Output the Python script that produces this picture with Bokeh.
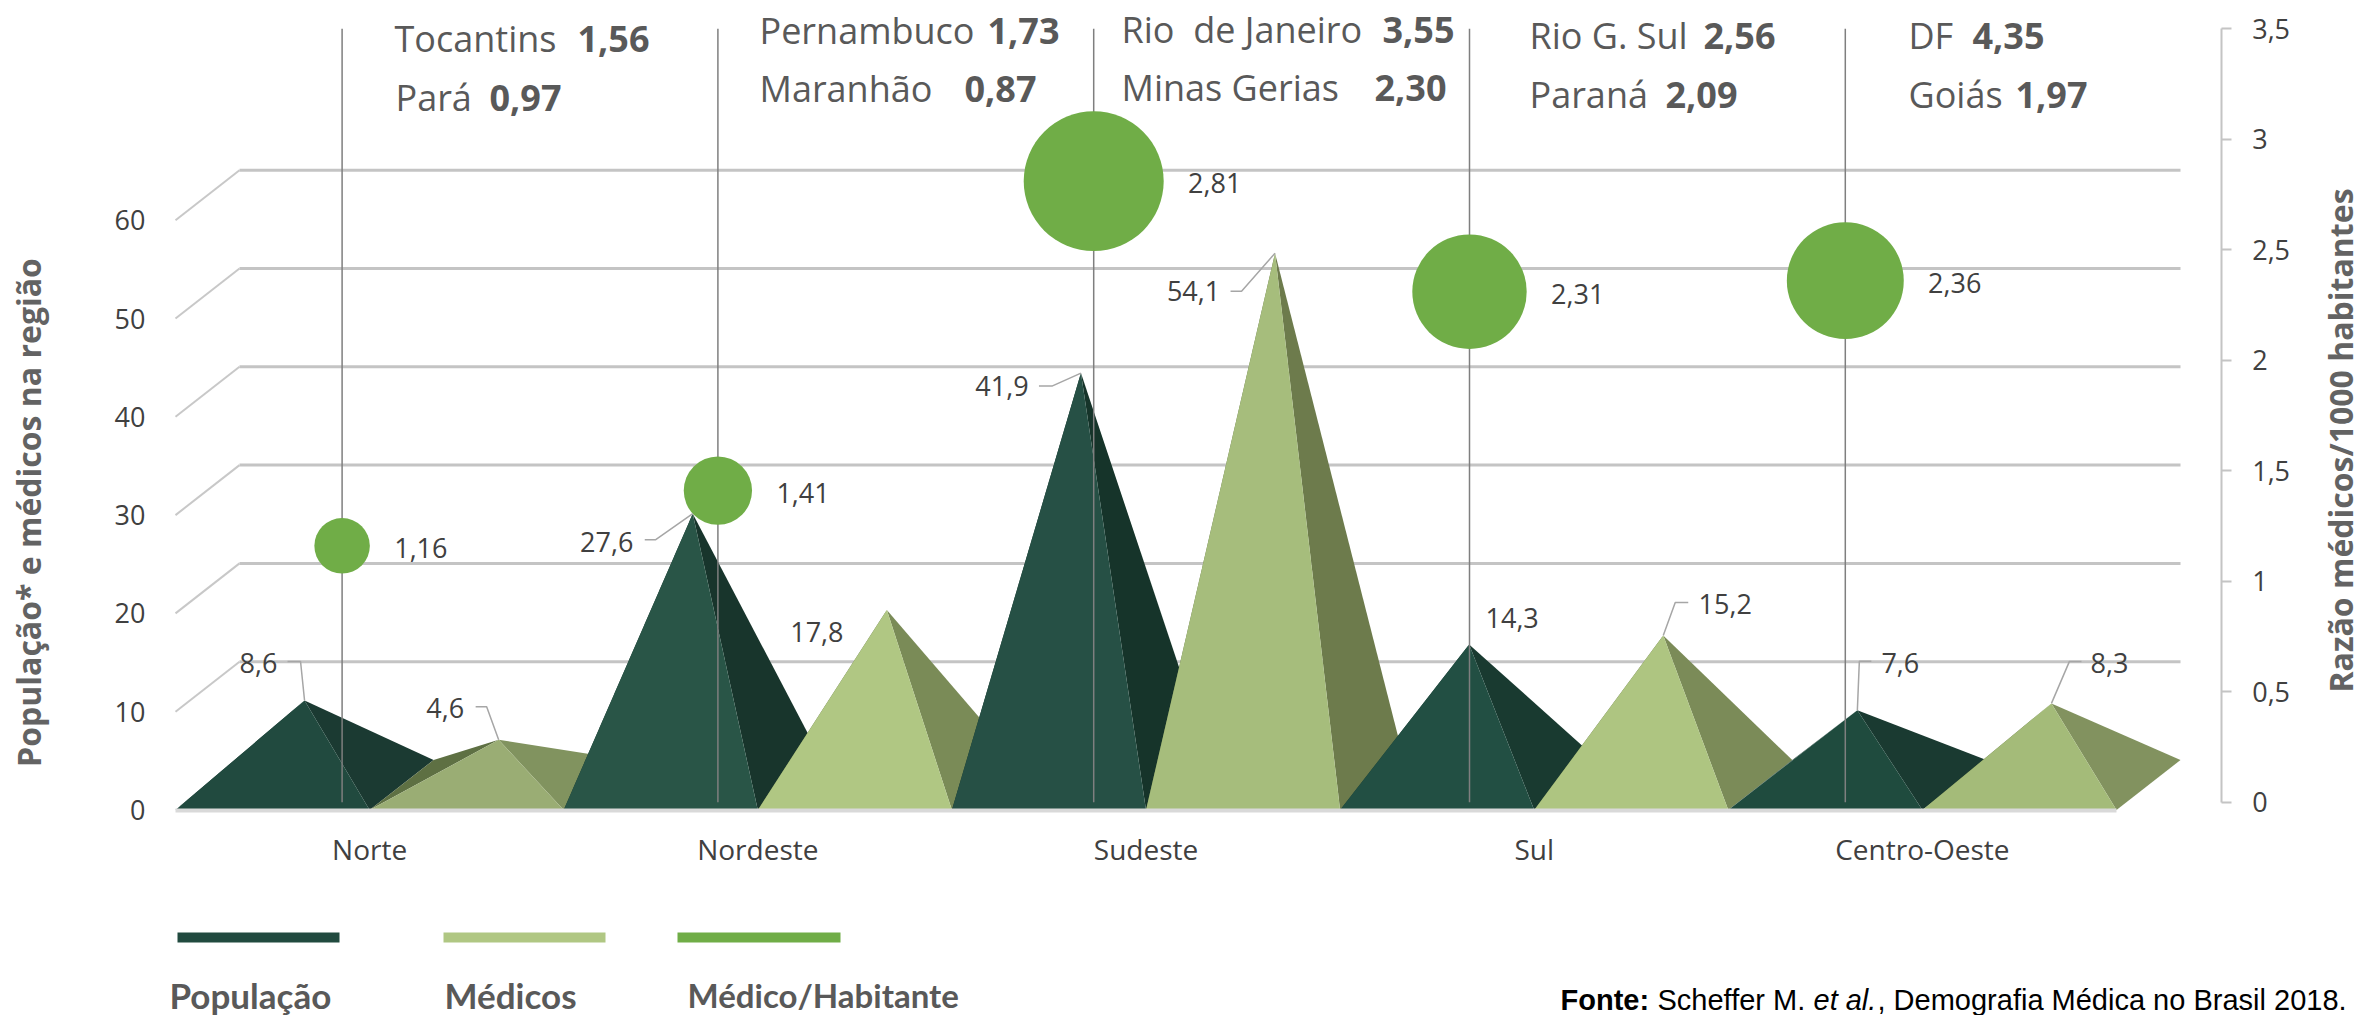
from math import pi
from bokeh.core.properties import value
from bokeh.embed import file_html
from bokeh.models import FixedTicker, LinearAxis, Range1d
from bokeh.plotting import figure
from bokeh.resources import INLINE

# ---------- data ----------
regions = ["Norte", "Nordeste", "Sudeste", "Sul", "Centro-Oeste"]
populacao = [8.6, 27.6, 41.9, 14.3, 7.6]
medicos = [4.6, 17.8, 54.1, 15.2, 8.3]
razao = [1.16, 1.41, 2.81, 2.31, 2.36]
left_ticks = [0, 10, 20, 30, 40, 50, 60]
right_ticks = [0, 0.5, 1, 1.5, 2, 2.5, 3, 3.5]
top_names = ["Tocantins", "Pará", "Pernambuco", "Maranhão", "Rio \u00a0de Janeiro",
             "Minas Gerias", "Rio G. Sul", "Paraná", "DF", "Goiás"]
top_values = ["1,56", "0,97", "1,73", "0,87", "3,55", "2,30", "2,56", "2,09", "4,35", "1,97"]
legend_names = ["População", "Médicos", "Médico/Habitante"]

# ---------- layout ----------
W, H = 2361, 1015
PX_L, PX_T = 0, 0
PX_R, PX_B = PX_L + W, PX_T + H
X0, GROUP = 175.0, 388.2
Y0, UNIT = 809.5, 9.83
Y2_0, UNIT2 = 801.7, 221.0
BX1, BSTEP = 341.6, 375.8
DEPTH_X, DEPTH_Y = 64.0 / GROUP, 50.0 / UNIT

p = figure(width=W, height=H, output_backend="svg", toolbar_location=None,
           x_axis_type=None, y_axis_type=None, min_border=0,
           x_range=Range1d((PX_L - X0) / GROUP, (PX_R - X0) / GROUP),
           y_range=Range1d((Y0 - PX_B) / UNIT, (Y0 - PX_T) / UNIT))
p.outline_line_color = None
p.background_fill_color = "white"
p.grid.visible = False
p.extra_y_ranges["razao"] = Range1d((Y2_0 - PX_B) / UNIT2, (Y2_0 - PX_T) / UNIT2)
p.extra_x_ranges["bubble"] = Range1d(1 + (PX_L - BX1) / BSTEP, 1 + (PX_R - BX1) / BSTEP)
p.extra_x_ranges["px"] = Range1d(PX_L, PX_R)
p.extra_y_ranges["px"] = Range1d(PX_B, PX_T)

SANS = value("Open Sans")
GREY = "#595959"
DARK = "#404040"

# ---------- axes ----------
left = LinearAxis(fixed_location=0, ticker=FixedTicker(ticks=left_ticks),
                  major_tick_line_color=None, minor_tick_line_color=None,
                  axis_line_color=None, major_label_standoff=24,
                  major_label_text_font="Open Sans", major_label_text_font_size="27px",
                  major_label_text_color=DARK)
p.add_layout(left, "left")

right = LinearAxis(y_range_name="razao", fixed_location=(2220.7 - X0) / GROUP,
                   bounds=(0, 3.5), ticker=FixedTicker(ticks=right_ticks),
                   major_label_overrides={t: str(t).replace(".", ",") for t in right_ticks},
                   axis_line_color="#c4c4c4", axis_line_width=2,
                   major_tick_line_color="#c4c4c4", major_tick_line_width=2,
                   major_tick_in=0, major_tick_out=10, minor_tick_line_color=None,
                   major_label_standoff=21,
                   major_label_text_font="Open Sans", major_label_text_font_size="27px",
                   major_label_text_color=DARK)
p.add_layout(right, "right")

bottom = LinearAxis(fixed_location=0, bounds=(0, 5),
                    ticker=FixedTicker(ticks=[i + 0.5 for i in range(5)]),
                    major_label_overrides={i + 0.5: r for i, r in enumerate(regions)},
                    axis_line_color="#d9d9d9", axis_line_width=4,
                    major_tick_line_color=None, minor_tick_line_color=None,
                    major_label_standoff=14,
                    major_label_text_font="Open Sans", major_label_text_font_size="28px",
                    major_label_text_color=DARK)
p.add_layout(bottom, "below")

# ---------- perspective gridlines ----------
grid_y = [t for t in left_ticks if t > 0]
p.segment(x0=[DEPTH_X] * len(grid_y), x1=[5 + DEPTH_X] * len(grid_y),
          y0=[t + DEPTH_Y for t in grid_y], y1=[t + DEPTH_Y for t in grid_y],
          line_color="#c4c4c4", line_width=3)
p.segment(x0=[0] * len(grid_y), x1=[DEPTH_X] * len(grid_y),
          y0=grid_y, y1=[t + DEPTH_Y for t in grid_y],
          line_color="#c8c8c8", line_width=2)

# ---------- pyramids ----------
pop_front = ["#214a3f", "#295547", "#265045", "#224f43", "#1f4b3e"]
pop_back = ["#1b3a32", "#18352c", "#16342a", "#193a30", "#1a3a31"]
med_front = ["#9aad74", "#b0c783", "#a6bd7c", "#aec581", "#a4bb79"]
med_back = ["#81935f", "#7a8b57", "#6d7b4c", "#7b8b58", "#82925f"]
med_side = ["#5e7043", "#5e7043", "#5e7043", "#5e7043", "#5e7043"]

xs, ys, colors = [], [], []
apex_x, apex_y = [], []
for i in range(5):
    for j, (v, fc, bc, sc) in enumerate([
            (populacao[i], pop_front[i], pop_back[i], pop_back[i]),
            (medicos[i], med_front[i], med_back[i], med_side[i])]):
        fl = i + j * 0.5
        fr = fl + 0.5
        ax = (fl + fr) / 2 + DEPTH_X / 2
        ay = DEPTH_Y / 2 + v
        apex_x.append(ax)
        apex_y.append(ay)
        xs += [[fl, fl + DEPTH_X, ax], [fr, fr + DEPTH_X, ax], [fl, fr, ax]]
        ys += [[0, DEPTH_Y, ay], [0, DEPTH_Y, ay], [0, 0, ay]]
        colors += [sc, bc, fc]
p.patches(xs, ys, fill_color=colors, line_color=None)

# ---------- bubbles and their drop lines ----------
bx = [i + 1 for i in range(5)]
p.segment(x0=bx, x1=bx, y0=[0] * 5, y1=[3.5] * 5, x_range_name="bubble",
          y_range_name="razao", line_color="#7f7f7f", line_width=1.5)
diam = [51.2 * r - 3.9 for r in razao]
p.scatter(x=bx, y=razao, size=diam, x_range_name="bubble", y_range_name="razao",
          fill_color="#70ad47", line_color=None)
p.text(x=bx, y=razao, text=[f"{r:.2f}".replace(".", ",") for r in razao],
       x_offset=[d / 2 + 51 for d in diam], y_offset=[2] * 5,
       x_range_name="bubble", y_range_name="razao",
       text_font=SANS, text_font_size="27px", text_color=DARK,
       text_align="center", text_baseline="middle")

# ---------- pyramid data labels with leader lines ----------
label_values = [v for pair in zip(populacao, medicos) for v in pair]
label_dx = [-46, -53.5, -86, -70, -79, -81.5, 43, 62, 43, 58]
label_dy = [-37.5, -32, 28, 22, 13, 38, -26, -31.6, -47, -40]
leaders = [((-17, -39), (-4, -39)), ((-23, -33), (-12, -33)), ((-48, 26), (-37, 26)), None,
           ((-42, 13), (-29, 13)), ((-44.5, 38), (-33.5, 38)), None, ((25, -33), (12, -33)),
           ((14, -49), (2, -49)), ((30, -42), (18, -42))]
p.text(x=apex_x, y=apex_y, text=[f"{v:.1f}".replace(".", ",") for v in label_values],
       x_offset=label_dx, y_offset=label_dy,
       text_font=SANS, text_font_size="27px", text_color=DARK,
       text_align="center", text_baseline="middle")
for ax, ay, lead in zip(apex_x, apex_y, leaders):
    if lead:
        p.line([ax + lead[0][0] / GROUP, ax + lead[1][0] / GROUP, ax],
               [ay - lead[0][1] / UNIT, ay - lead[1][1] / UNIT, ay],
               line_color="#a6a6a6", line_width=1.5)

# ---------- call-outs above the drop lines ----------
name_x = [394, 395, 759, 759, 1121, 1121, 1529, 1529, 1908, 1908]
value_x = [577, 489, 987, 964, 1382, 1374, 1703, 1665, 1972, 2015]
call_y = [38, 97, 30, 88, 29, 87, 35, 94, 35, 94]
p.text(x=name_x, y=call_y, text=top_names, x_range_name="px", y_range_name="px",
       text_font=SANS, text_font_size="36px", text_color=GREY,
       text_align="left", text_baseline="middle")
p.text(x=value_x, y=call_y, text=top_values, x_range_name="px", y_range_name="px",
       text_font=SANS, text_font_style="bold", text_font_size="36px", text_color=GREY,
       text_align="left", text_baseline="middle")

# ---------- axis titles ----------
p.text(x=[28], y=[512], text=["População* e médicos na região"], angle=pi / 2,
       x_range_name="px", y_range_name="px", text_font=SANS, text_font_style="bold",
       text_font_size="32px", text_color="#636363", text_align="center", text_baseline="middle")
p.text(x=[2340], y=[440], text=["Razão médicos/1000 habitantes"], angle=pi / 2,
       x_range_name="px", y_range_name="px", text_font=SANS, text_font_style="bold",
       text_font_size="32px", text_color="#636363", text_align="center", text_baseline="middle")

# ---------- legend ----------
p.quad(left=[177, 443, 677], right=[339, 605, 840], top=[932, 932, 932], bottom=[942, 942, 942],
       x_range_name="px", y_range_name="px",
       fill_color=["#214a3f", "#b0c783", "#70ad47"], line_color=None)
for lx, ln, ls in zip([169, 444, 687], legend_names, ["35px", "35px", "33px"]):
    p.text(x=[lx], y=[994], text=[ln], x_range_name="px", y_range_name="px",
           text_font=value("Lato"), text_font_style="bold", text_font_size=ls,
           text_color=GREY, text_align="left", text_baseline="middle")

# ---------- source ----------
src_x = [1560, 1657, 1813, 1877]
src_t = ["Fonte:", "Scheffer M.", "et al.", ", Demografia Médica no Brasil 2018."]
src_s = ["bold", "normal", "italic", "normal"]
for sx, st, ss in zip(src_x, src_t, src_s):
    p.text(x=[sx], y=[999], text=[st], x_range_name="px", y_range_name="px",
           text_font=value("Liberation Sans"), text_font_style=ss, text_font_size="29px",
           text_color="black", text_align="left", text_baseline="middle")

open("out.html", "w").write(file_html(p, INLINE))
